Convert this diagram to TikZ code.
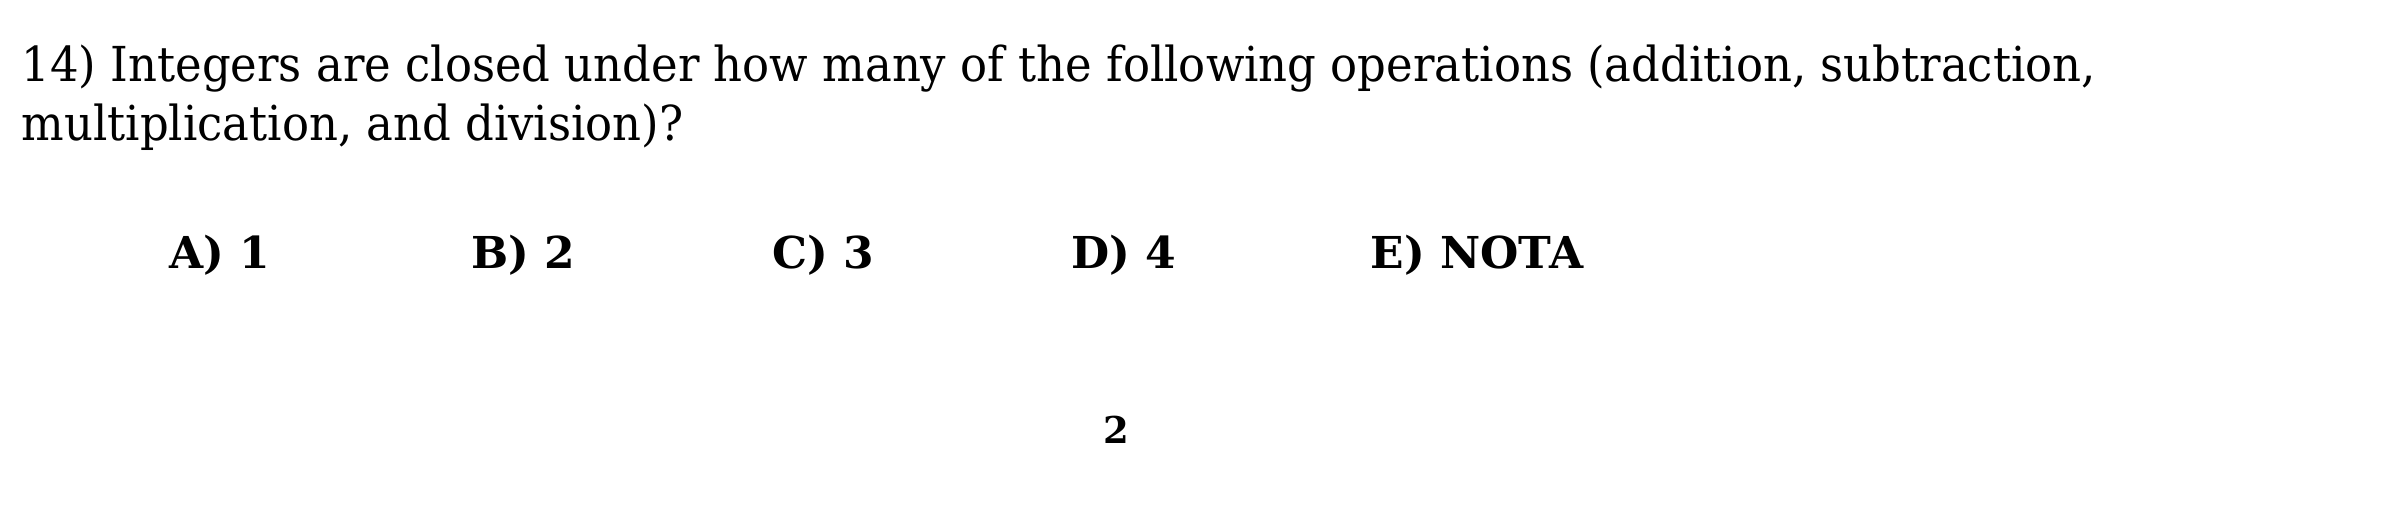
\documentclass[tikz,border=0pt]{standalone}
\usepackage{fontspec}
\setmainfont{DejaVu Serif}[FakeStretch=0.933]
\newfontfamily\optfont{DejaVu Serif}[FakeStretch=1.0]
\begin{document}
\begin{tikzpicture}[x=0.01cm,y=0.01cm,
  qtext/.style={anchor=base west,inner sep=0pt,font=\fontsize{13.7pt}{16pt}\selectfont},
  opt/.style={anchor=base west,inner sep=0pt,font=\fontsize{12.5pt}{15pt}\optfont\bfseries},
  pnum/.style={anchor=base,inner sep=0pt,font=\fontsize{10.5pt}{12pt}\optfont\bfseries}]
\useasboundingbox[fill=white] (0,0) rectangle (2389,-511);
\node[qtext] (l1) at (21,-81) {14) Integers are closed under how many of the following operations (addition, subtraction,};
\node[qtext] (l2) at (21,-140) {multiplication, and division)?};
\node[opt] (oa) at (169,-268) {A) 1};
\node[opt] (ob) at (471,-268) {B) 2};
\node[opt] (oc) at (772,-268) {C) 3};
\node[opt] (od) at (1071,-268) {D) 4};
\node[opt] (oe) at (1370,-268) {E) NOTA};
\node[pnum] (pg) at (1116,-443) {2};
\end{tikzpicture}
\end{document}
